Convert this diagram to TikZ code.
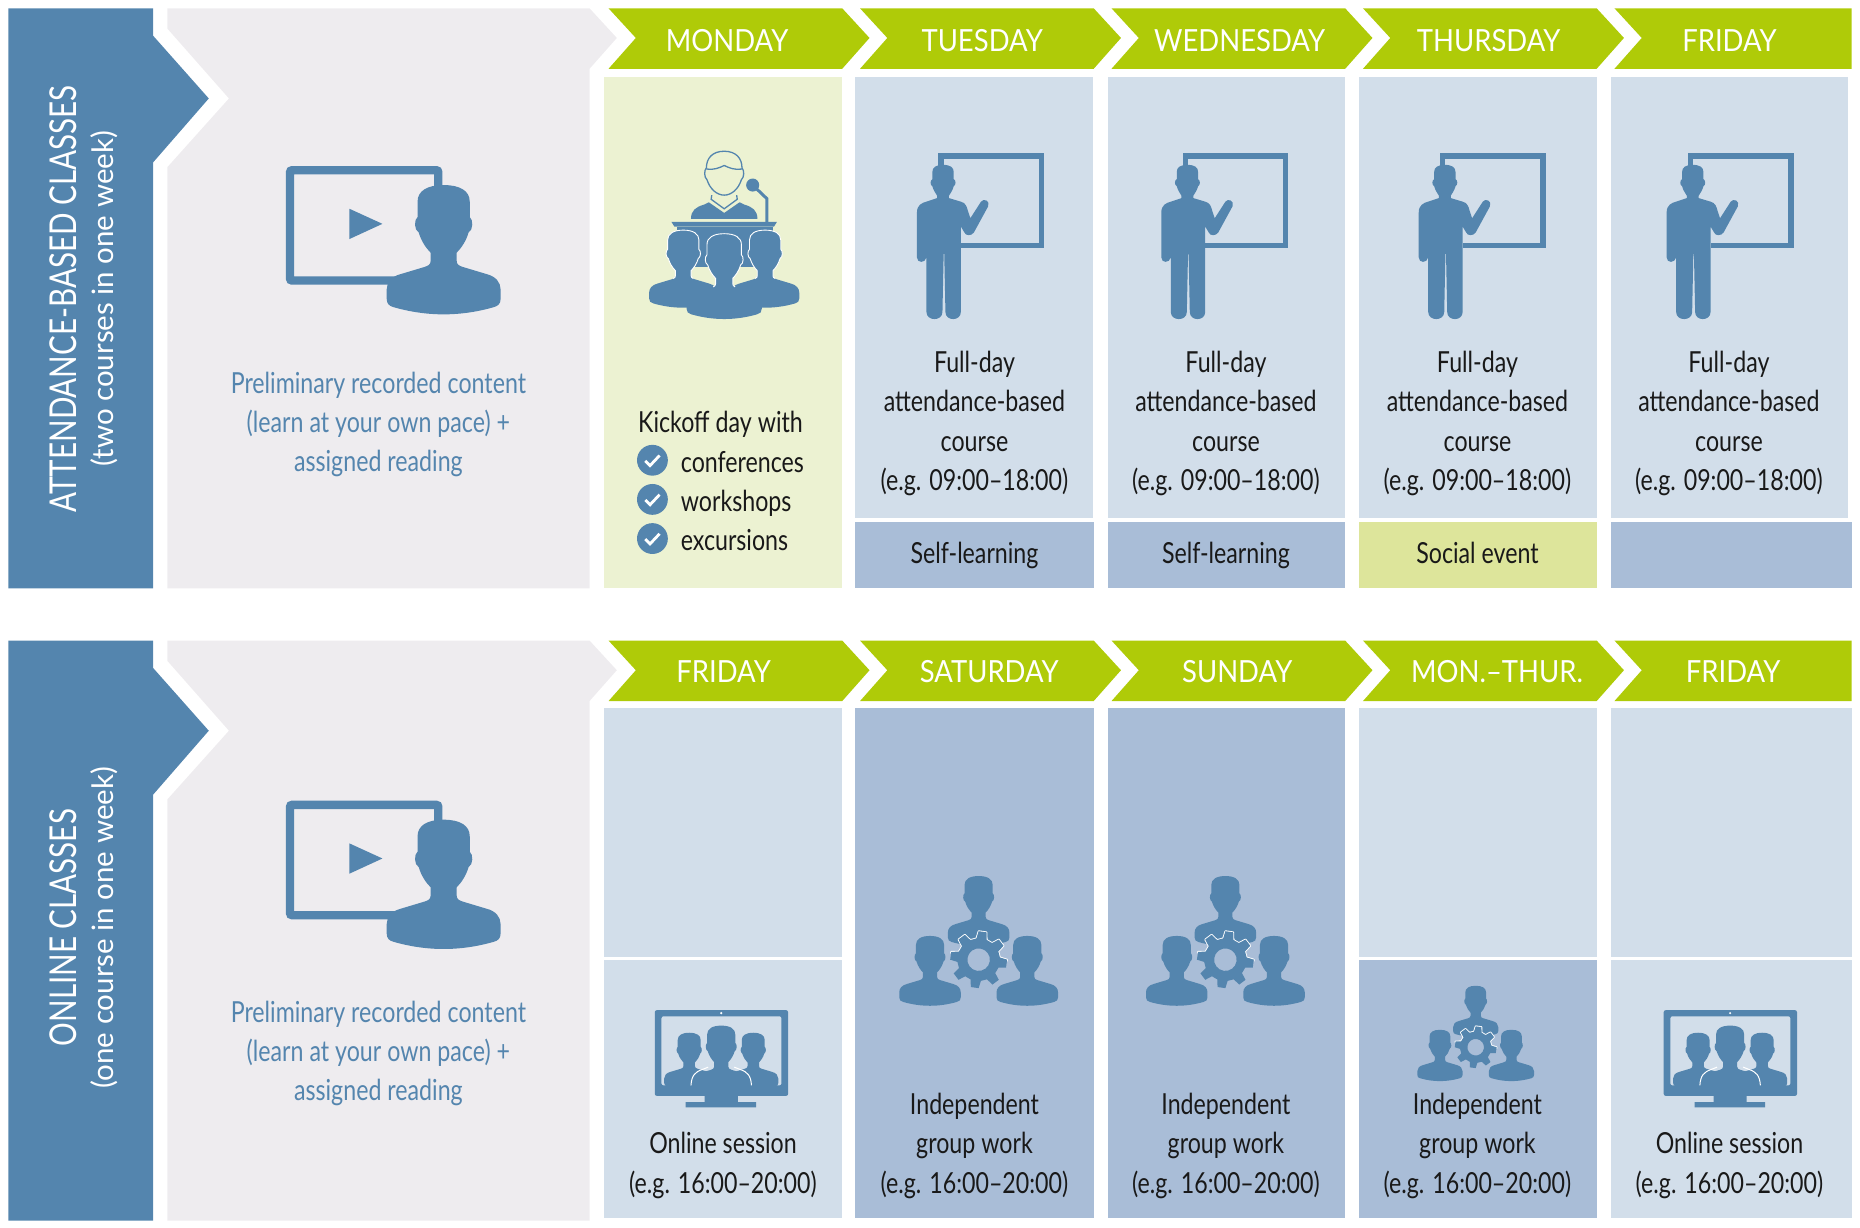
\documentclass[tikz,border=0pt]{standalone}
\usepackage{fontspec}
\setmainfont[FakeStretch=0.8]{Lato}
\newfontfamily\dayface[FakeStretch=0.9]{Lato}
\newfontfamily\noteface{Lato}
\usetikzlibrary{positioning}

\definecolor{iconblue}{HTML}{5485AE}
\definecolor{panelgray}{HTML}{EEECEF}
\definecolor{headgreen}{HTML}{AFCB08}
\definecolor{kickgreen}{HTML}{ECF2D2}
\definecolor{socialgreen}{HTML}{DDE59B}
\definecolor{cellpale}{HTML}{D2DEEA}
\definecolor{celldeep}{HTML}{A9BDD7}

\newcommand{\bustshape}{(0,0) .. controls (14,0) and (22,5) .. (22,14) -- (22,27)
    .. controls (25,29) and (25,38) .. (21,40) .. controls (19,47) and (15,53) .. (11,57) -- (11,64)
    .. controls (11,67) and (13,68) .. (16,69) -- (36,75) .. controls (44,77) and (48,82) .. (48,88) -- (48,96)
    .. controls (48,100) and (46,102) .. (42,103) .. controls (28,107) and (14,109) .. (0,109)
    .. controls (-14,109) and (-28,107) .. (-42,103) .. controls (-46,102) and (-48,100) .. (-48,96) -- (-48,88)
    .. controls (-48,82) and (-44,77) .. (-36,75) -- (-16,69) .. controls (-13,68) and (-11,67) .. (-11,64) -- (-11,57)
    .. controls (-15,53) and (-19,47) .. (-21,40) .. controls (-25,38) and (-25,29) .. (-22,27) -- (-22,14)
    .. controls (-22,5) and (-14,0) .. (0,0) -- cycle}
\newcommand{\bustedge}{(-14,68) .. controls (-12,67) and (-11,66) .. (-11,64) -- (-11,57)
    .. controls (-15,53) and (-19,47) .. (-21,40) .. controls (-25,38) and (-25,29) .. (-22,27) -- (-22,14)
    .. controls (-22,5) and (-14,0) .. (0,0) .. controls (14,0) and (22,5) .. (22,14) -- (22,27)
    .. controls (25,29) and (25,38) .. (21,40) .. controls (19,47) and (15,53) .. (11,57) -- (11,64)
    .. controls (11,66) and (12,67) .. (14,68)}
\newcommand{\gearshape}{(-14:18) \foreach \a in {0,45,...,315} {-- (\a-14:18) -- (\a-8:24) -- (\a+8:24) -- (\a+14:18)} -- cycle}

\tikzset{
    bust/.pic={\fill[iconblue] \bustshape;},
    bust line/.pic={\draw[white,line width=.9pt] \bustedge;},
    recorded/.pic={
        \draw[iconblue,line width=8.3pt,rounded corners=2pt] (-129.5,-12.5) rectangle (-4.5,80.5);
        \fill[iconblue] (-79.4,20) -- (-51.6,32.7) -- (-79.4,45.5) -- cycle;
        \pic at (0,0) {bust};
    },
    teacher/.pic={
        \draw[iconblue,line width=5.3pt] (-1.75,3) -- (-1.75,-7.5) -- (82.75,-7.5) -- (82.75,67.7) -- (15,67.7);
        \fill[iconblue] (0,0) .. controls (6,0) and (9,2) .. (9,6) -- (9,12) .. controls (11,13) and (11,17) .. (9,18)
            .. controls (8,22) and (6,24) .. (5,26) -- (5,28) -- (15,31) .. controls (19,32) and (20,35) .. (21,39)
            -- (23,45) -- (32,31) .. controls (34,28) and (40,30) .. (38,35) -- (26,57) .. controls (24,60) and (19,60) .. (18,57)
            -- (15,52) -- (15,124) .. controls (15,132) and (2,132) .. (2,124) -- (1,75) -- (0.5,75) -- (-0.5,124)
            .. controls (-0.5,132) and (-14,132) .. (-14,124) -- (-14,78) .. controls (-15,83) and (-22,83) .. (-22,78)
            -- (-22,40) .. controls (-22,34) and (-18,32) .. (-14,31) -- (-5,28) -- (-5,26) .. controls (-6,24) and (-8,22) .. (-9,18)
            .. controls (-11,17) and (-11,13) .. (-9,12) -- (-9,6) .. controls (-9,2) and (-6,0) .. (0,0) -- cycle;
    },
    podium/.pic={
        \draw[iconblue,line width=1.3pt] (0,0) .. controls (10,0) and (15,6) .. (15,14) .. controls (17,16) and (17,22) .. (14.5,24)
            .. controls (12,32) and (6,37) .. (0,37) .. controls (-6,37) and (-12,32) .. (-14.5,24)
            .. controls (-17,22) and (-17,16) .. (-15,14) .. controls (-15,6) and (-10,0) .. (0,0);
        \draw[iconblue,line width=1.3pt] (-15,15) .. controls (-9,16) and (-4,14) .. (0,12) .. controls (4,14) and (9,16) .. (15,15);
        \draw[iconblue,line width=1.3pt] (-10.5,37) -- (-11,40.5) -- (0,48.5) -- (11,40.5) -- (10.5,37);
        \fill[iconblue] (-28,57) .. controls (-28,50) and (-24,47) .. (-17,45) -- (-13,43) -- (0,52) -- (13,43) -- (17,45)
            .. controls (24,47) and (28,50) .. (28,57) -- cycle;
        \fill[iconblue] (24,28.5) circle (5.5);
        \draw[iconblue,line width=3pt] (24,28.5) -- (36,40) -- (36,60);
        \fill[iconblue] (-44.5,59.5) -- (44.5,59.5) -- (42,63.5) -- (-42,63.5) -- cycle;
        \fill[iconblue] (-40,63.5) rectangle (41,70);
        \fill[iconblue] (-33,63.5) rectangle (33,98);
        \pic[scale=.6] at (-34.5,66.5) {bust};
        \pic[scale=.6] at (-34.5,66.5) {bust line};
        \pic[scale=.6] at (34.5,66.5) {bust};
        \pic[scale=.6] at (34.5,66.5) {bust line};
        \pic[scale=.66] at (0,69.5) {bust};
        \pic[scale=.66] at (0,69.5) {bust line};
    },
    group/.pic={
        \pic[transform shape,scale=.54] at (0,0) {bust};
        \pic[transform shape,scale=.54] at (-41,50.5) {bust};
        \pic[transform shape,scale=.54] at (41,50.5) {bust};
        \begin{scope}[shift={(0,70.5)},rotate=-8]
            \begin{scope}
                \clip (-30,-30) rectangle (30,-2);
                \draw[white,line width=1.8pt,line join=round] \gearshape;
            \end{scope}
            \fill[iconblue,even odd rule] \gearshape (0,0) circle (9.5);
        \end{scope}
    },
    monitor/.pic={
        \fill[iconblue,even odd rule,rounded corners=2pt] (-56,-13) rectangle (56.4,59.2) (-50.4,-7.9) -- (50.8,-7.9) -- (50.8,50.4) -- (-50.4,50.4) -- cycle;
        \fill[iconblue] (-14,59.2) rectangle (14,65) (-30,64.5) rectangle (29.5,69);
        \fill[white] (0,-10.5) circle (1);
        \pic[scale=.44] at (-27,6) {bust};
        \pic[scale=.44] at (27,6) {bust};
        \pic[scale=.54] at (0,0) {bust};
        \draw[white,line width=1pt] (-25.5,50.4) .. controls (-25,42) and (-22,39) .. (-16,37) -- (-11,35);
        \draw[white,line width=1pt] (25.5,50.4) .. controls (25,42) and (22,39) .. (16,37) -- (11,35);
    },
    tick/.pic={
        \fill[iconblue] (0,0) circle (13);
        \draw[white,line width=2.8pt] (-6,0.5) -- (-2,4.5) -- (6,-4);
    }
}

\begin{document}
\begin{tikzpicture}[x=1.18622pt,y=-1.18622pt,
    daytext/.style={text=white,font=\dayface\fontsize{30.5}{35}\selectfont},
    celltext/.style={align=center,text=black!90,font=\fontsize{29}{39.1}\selectfont},
    itemtext/.style={anchor=west,text=black!90,text height=20pt,text depth=6pt,font=\fontsize{29}{39.1}\selectfont},
    pretext/.style={align=center,text=iconblue,font=\fontsize{29}{39.1}\selectfont},
    sidetitle/.style={rotate=90,text=white,font=\fontsize{37}{42}\selectfont},
    sidenote/.style={rotate=90,text=white,font=\noteface\fontsize{29.5}{34}\selectfont}]

    \useasboundingbox (0,0) rectangle (1568,1034.4);

    % both rows: left arrow, gray panel, day arrows
    \foreach \r in {0,533}{
        \fill[iconblue] (7,7+\r) -- (129,7+\r) -- (129,30+\r) -- (176,83+\r) -- (129,137+\r) -- (129,496+\r) -- (7,496+\r) -- cycle;
        \fill[panelgray] (141,7+\r) -- (497,7+\r) -- (520,32+\r) -- (497,58+\r) -- (497,496+\r) -- (141,496+\r) -- (141,141+\r) -- (193,83+\r) -- (141,24+\r) -- cycle;
        \foreach \x in {513,725,937,1149}{
            \fill[headgreen] (\x,7+\r) -- (\x+197,7+\r) -- (\x+220,32+\r) -- (\x+197,58+\r) -- (\x,58+\r) -- (\x+23,32+\r) -- cycle;
        }
        \fill[headgreen] (1361,7+\r) -- (1561,7+\r) -- (1561,58+\r) -- (1361,58+\r) -- (1384,32+\r) -- cycle;
    }

    % upper cells
    \fill[kickgreen] (509,65) rectangle (710,496);
    \foreach \x in {721,934,1146,1358}{
        \fill[cellpale] (\x,65) rectangle (\x+200,437);
    }
    \fill[celldeep] (721,440) rectangle (922,496);
    \fill[celldeep] (934,440) rectangle (1134,496);
    \fill[socialgreen] (1146,440) rectangle (1346,496);
    \fill[celldeep] (1358,440) rectangle (1561,496);

    % lower cells
    \fill[cellpale] (509,597) rectangle (710,807);
    \fill[cellpale] (509,809) rectangle (710,1027);
    \fill[celldeep] (721,597) rectangle (922,1027);
    \fill[celldeep] (934,597) rectangle (1134,1027);
    \fill[cellpale] (1146,597) rectangle (1346,807);
    \fill[celldeep] (1146,809) rectangle (1346,1027);
    \fill[cellpale] (1358,597) rectangle (1561,807);
    \fill[cellpale] (1358,809) rectangle (1561,1027);

    % day names
    \foreach \n/\x/\d in {a/613/MONDAY,b/828/TUESDAY,c/1045/WEDNESDAY,d/1255/THURSDAY,e/1458/FRIDAY}{
        \node[daytext] (top\n) at (\x,34) {\d};
    }
    \foreach \n/\x/\d in {a/610/FRIDAY,b/834/SATURDAY,c/1043/SUNDAY,d/1262/MON.–THUR.,e/1461/FRIDAY}{
        \node[daytext] (low\n) at (\x,566) {\d};
    }

    % side titles
    \node[sidetitle] (attend) at (53,252) {ATTENDANCE-BASED CLASSES};
    \node[sidenote] (attendnote) at (88,252) {(two courses in one week)};
    \node[sidetitle] (online) at (53,782) {ONLINE CLASSES};
    \node[sidenote] (onlinenote) at (88,782) {(one course in one week)};

    % recorded content
    \pic at (374,156) {recorded};
    \pic at (374,691) {recorded};
    \node[pretext] (pretop) at (319,358) {Preliminary recorded content\\(learn at your own pace) +\\assigned reading};
    \node[pretext] (prelow) at (319,888) {Preliminary recorded content\\(learn at your own pace) +\\assigned reading};

    % monday
    \pic at (610.5,127.5) {podium};
    \node[itemtext] (kick) at (535,358.5) {Kickoff day with};
    \foreach \n/\y/\t in {conf/388/conferences,work/421/workshops,excu/454/excursions}{
        \pic at (550,\y) {tick};
        \node[itemtext] (\n) at (571,\y+4) {\t};
    }

    % tuesday to friday
    \foreach \n/\x/\c in {b/795/821.5,c/1001/1033.5,d/1218/1245.5,e/1427/1457.5}{
        \pic at (\x,139) {teacher};
        \node[celltext] (full\n) at (\c,357) {Full-day\\attendance-based\\course\\(e.g. 09:00--18:00)};
    }
    \node[celltext] (selfb) at (821.5,468) {Self-learning};
    \node[celltext] (selfc) at (1033.5,468) {Self-learning};
    \node[celltext] (social) at (1245.5,466) {Social event};

    % lower row
    \pic at (608,864.6) {monitor};
    \pic at (1458.5,864.6) {monitor};
    \node[celltext] (sessa) at (609.5,982.5) {Online session\\(e.g. 16:00--20:00)};
    \node[celltext] (sesse) at (1458,982.5) {Online session\\(e.g. 16:00--20:00)};

    \pic at (825,738.5) {group};
    \pic at (1033,738.5) {group};
    \pic[scale=.735] at (1244,831) {group};
    \foreach \n/\c in {b/821.5,c/1033.5,d/1245.5}{
        \node[celltext] (indep\n) at (\c,966) {Independent\\group work\\(e.g. 16:00--20:00)};
    }

\end{tikzpicture}
\end{document}
